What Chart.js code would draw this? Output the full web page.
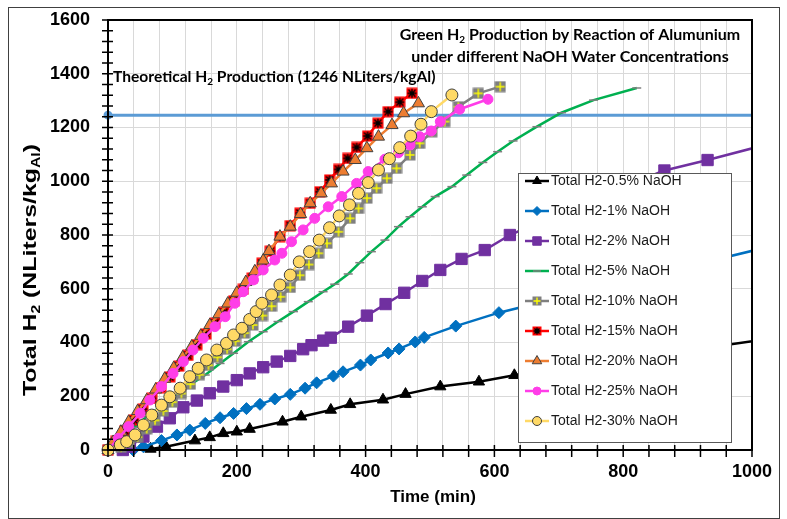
<!DOCTYPE html>
<html>
<head>
<meta charset="utf-8">
<script src="https://cdn.jsdelivr.net/npm/chart.js@4.4.0/dist/chart.umd.min.js"></script>
<style>
  html, body { margin: 0; padding: 0; background: #fff; }
</style>
</head>
<body>
<canvas id="h2Chart" width="787" height="519"></canvas>
<script>
// 시간(min) / 수소 발생량(NLiters/kgAl) - 그림에서 읽은 값
const t05 = [66, 90, 135, 158, 179, 200, 220, 271, 300, 346, 376, 427, 462, 516, 576, 631, 800, 1050];
const h05 = [4, 12, 35, 47, 62, 68, 78, 105, 124, 149, 170, 187, 208, 236, 254, 278, 336, 422];

const t1 = [39, 55, 83, 107, 127, 151, 174, 195, 215, 236, 259, 283, 306, 324, 350, 365, 392, 408, 435, 452, 477, 491, 540, 607, 800, 1050];
const h1 = [0, 12, 35, 56, 74, 99, 120, 136, 154, 170, 190, 207, 230, 250, 275, 291, 316, 335, 361, 376, 402, 419, 461, 511, 625, 770];

const t2 = [23, 34, 55, 76, 96, 117, 138, 158, 179, 200, 220, 241, 262, 283, 303, 316, 334, 346, 373, 402, 431, 460, 488, 516, 549, 585, 624, 700, 780, 864, 931, 1060];
const h2 = [0, 12, 50, 87, 118, 159, 184, 211, 236, 260, 285, 308, 329, 350, 375, 390, 407, 418, 459, 500, 543, 585, 629, 670, 711, 744, 800, 880, 960, 1040, 1079, 1160];

const t5 = [0, 20, 40, 60, 81, 104, 127, 151, 174, 195, 218, 241, 264, 288, 311, 334, 352, 373, 391, 409, 430, 451, 469, 488, 508, 534, 557, 582, 605, 629, 666, 704, 754, 821];
const h5 = [0, 38, 83, 124, 161, 198, 242, 279, 322, 360, 403, 440, 478, 515, 552, 589, 617, 655, 697, 738, 781, 831, 868, 905, 943, 980, 1023, 1070, 1110, 1150, 1203, 1255, 1302, 1347];

const t10 = [0, 20, 33, 46, 60, 73, 86, 100, 114, 128, 142, 156, 170, 185, 198, 212, 225, 240, 254, 268, 283, 298, 312, 327, 340, 358, 376, 389, 402, 417, 433, 448, 469, 484, 503, 523, 544, 575, 609];
const h10 = [0, 10, 28, 48, 78, 110, 145, 178, 210, 245, 280, 315, 345, 375, 405, 435, 465, 500, 535, 570, 605, 650, 690, 732, 769, 812, 862, 899, 937, 974, 1011, 1048, 1098, 1141, 1184, 1222, 1277, 1327, 1352];

const t15 = [0, 12, 26, 40, 54, 68, 82, 96, 110, 124, 138, 152, 166, 180, 195, 210, 224, 239, 252, 267, 283, 298, 314, 329, 344, 358, 372, 386, 403, 419, 435, 453, 472];
const h15 = [0, 32, 72, 112, 152, 192, 232, 272, 312, 352, 392, 432, 472, 512, 555, 598, 640, 695, 740, 794, 835, 881, 918, 961, 1005, 1044, 1085, 1126, 1168, 1216, 1259, 1294, 1327];

const t20 = [0, 8, 20, 32, 46, 60, 74, 88, 102, 116, 130, 144, 158, 172, 186, 200, 214, 228, 241, 250, 267, 283, 299, 314, 331, 347, 365, 384, 402, 420, 441, 459, 482];
const h20 = [0, 30, 68, 105, 145, 185, 225, 265, 305, 345, 385, 425, 465, 505, 545, 585, 625, 665, 705, 740, 794, 831, 878, 918, 955, 992, 1036, 1079, 1123, 1166, 1209, 1253, 1290];

const t25 = [0, 16, 32, 50, 65, 83, 101, 117, 132, 148, 166, 182, 197, 210, 226, 241, 259, 270, 285, 303, 321, 342, 363, 386, 404, 430, 451, 469, 484, 502, 516, 546, 590];
const h25 = [0, 43, 87, 137, 186, 236, 285, 329, 372, 416, 459, 496, 546, 589, 633, 670, 707, 732, 775, 819, 862, 905, 943, 992, 1036, 1082, 1106, 1135, 1166, 1187, 1222, 1268, 1305];

const t30 = [0, 19, 29, 42, 55, 68, 83, 96, 112, 127, 140, 153, 169, 184, 195, 208, 220, 230, 239, 254, 267, 283, 297, 313, 328, 344, 359, 375, 389, 404, 420, 437, 453, 470, 486, 502, 534];
const h30 = [0, 19, 31, 56, 93, 130, 167, 198, 230, 273, 304, 335, 372, 397, 428, 453, 486, 515, 546, 577, 614, 651, 700, 738, 781, 827, 871, 912, 955, 995, 1042, 1084, 1125, 1168, 1212, 1259, 1321];

const seriesNames = [
  "Total H2-0.5% NaOH", "Total H2-1% NaOH", "Total H2-2% NaOH",
  "Total H2-5% NaOH", "Total H2-10% NaOH", "Total H2-15% NaOH",
  "Total H2-20% NaOH", "Total H2-25% NaOH", "Total H2-30% NaOH",
];

// 이론 발생량 (1246 NLiters/kgAl)
const theoTime = [0, 1000];
const theoValue = [1246, 1246];

const xMax = 1000, yMax = 1600, minorStep = 40;

const pts = (t, v) => t.map((x, i) => ({ x: x, y: v[i] }));

// 복합 마커 (사각형 + 십자/별표)
const makeMarker = (fill, mark, star, size) => {
  const c = document.createElement("canvas");
  c.width = size; c.height = size;
  const g = c.getContext("2d");
  const m = size / 2, e = size - 1.5;
  g.fillStyle = fill;
  g.fillRect(0.5, 0.5, size - 1, size - 1);
  g.strokeStyle = mark;
  g.lineWidth = 1.4;
  g.beginPath();
  g.moveTo(m, 1.5); g.lineTo(m, e);
  g.moveTo(1.5, m); g.lineTo(e, m);
  if (star) {
    g.moveTo(2.5, 2.5); g.lineTo(size - 2.5, size - 2.5);
    g.moveTo(size - 2.5, 2.5); g.lineTo(2.5, size - 2.5);
  }
  g.stroke();
  return c;
};
const grayPlus = makeMarker("#7f7f7f", "#ffff00", false, 12);
const redStar = makeMarker("#ff0000", "#000000", true, 12);
const grayPlusSmall = makeMarker("#7f7f7f", "#ffff00", false, 10);
const redStarSmall = makeMarker("#ff0000", "#000000", true, 10);

const clipRight = { left: 12, top: 12, right: 0, bottom: 12 };

const base = (label, data, color, extra, idx) =>
  Object.assign({
    label: label,
    data: data,
    showLine: true,
    borderColor: color,
    backgroundColor: color,
    borderWidth: 2.5,
    pointBackgroundColor: color,
    pointBorderColor: color,
    pointBorderWidth: 1,
    clip: clipRight,
    order: 100 - idx,
  }, extra);

const datasets = [
  base(seriesNames[0], pts(t05, h05), "#000000", { pointStyle: "triangle", pointRadius: 6.5 }, 0),
  base(seriesNames[1], pts(t1, h1), "#0070c0", { pointStyle: "rectRot", pointRadius: 6 }, 1),
  base(seriesNames[2], pts(t2, h2), "#7030a0", { pointStyle: "rect", pointRadius: 8 }, 2),
  base(seriesNames[3], pts(t5, h5), "#00b050", { pointStyle: "line", pointRadius: 4.5, pointBorderColor: "#7f7f7f", pointBorderWidth: 1.5 }, 3),
  base(seriesNames[4], pts(t10, h10), "#7f7f7f", { pointStyle: grayPlus, pointRadius: 6 }, 4),
  base(seriesNames[5], pts(t15, h15), "#ff0000", { pointStyle: redStar, pointRadius: 6 }, 5),
  base(seriesNames[6], pts(t20, h20), "#ed7d31", { pointStyle: "triangle", pointRadius: 7, pointBorderColor: "#404040" }, 6),
  base(seriesNames[7], pts(t25, h25), "#ff3de8", { pointStyle: "circle", pointRadius: 5 }, 7),
  base(seriesNames[8], pts(t30, h30), "#ffd966", { pointStyle: "circle", pointRadius: 6, pointBackgroundColor: "#ffd966", pointBorderColor: "#404040" }, 8),
  {
    label: "Theoretical",
    data: pts(theoTime, theoValue),
    showLine: true,
    borderColor: "#5b9bd5",
    backgroundColor: "#5b9bd5",
    borderWidth: 3,
    pointRadius: [3, 0],
    clip: clipRight,
    order: 200,
  },
];

// 범례용 작은 마커
const legendStyle = [
  { s: "triangle", r: 5 }, { s: "rectRot", r: 4.5 }, { s: "rect", r: 6 },
  { s: "line", r: 4 }, { s: grayPlusSmall, r: 5 }, { s: redStarSmall, r: 5 },
  { s: "triangle", r: 5.5 }, { s: "circle", r: 4 }, { s: "circle", r: 4.5 },
];

// 아래첨자 포함 텍스트 (stretch: 글자 방향으로 늘릴 목표 길이)
const richText = (ctx, parts, x, y, size, weight, family, align, stretch) => {
  const fontOf = (sub) => `${weight} ${sub ? Math.round(size * 0.65) : size}px ${family}`;
  let w = 0;
  parts.forEach((p) => { ctx.font = fontOf(p[1]); w += ctx.measureText(p[0]).width; });
  const sx = stretch ? stretch / w : 1;
  ctx.save();
  ctx.translate(x, y);
  ctx.scale(sx, 1);
  let cx = align === "center" ? -w / 2 : 0;
  ctx.textAlign = "left";
  ctx.textBaseline = "middle";
  parts.forEach((p) => {
    ctx.font = fontOf(p[1]);
    ctx.fillText(p[0], cx, p[1] ? size * 0.3 : 0);
    cx += ctx.measureText(p[0]).width;
  });
  ctx.restore();
};

const decor = {
  id: "decor",
  afterDraw(chart) {
    const ctx = chart.ctx;
    const a = chart.chartArea;
    const xs = chart.scales.x, ys = chart.scales.y;
    ctx.save();

    // 그래프 영역 테두리
    ctx.strokeStyle = "#000";
    ctx.lineWidth = 2;
    ctx.strokeRect(a.left, a.top, a.right - a.left, a.bottom - a.top);

    // 보조 눈금
    ctx.lineWidth = 1.5;
    ctx.beginPath();
    for (let v = 0; v <= yMax; v += minorStep) {
      const y = ys.getPixelForValue(v);
      ctx.moveTo(a.left - 6, y); ctx.lineTo(a.left + 5, y);
    }
    for (let t = 0; t <= xMax; t += minorStep) {
      const x = xs.getPixelForValue(t);
      ctx.moveTo(x, a.bottom - 5); ctx.lineTo(x, a.bottom + 7);
    }
    ctx.stroke();

    // 제목
    ctx.fillStyle = "#000";
    const cal = "Lato, 'Open Sans', sans-serif";
    richText(ctx, [["Green H", 0], ["2", 1], [" Production by Reaction of Alumunium", 0]], 570, 35, 16, "bold", cal, "center");
    richText(ctx, [["under different NaOH Water Concentrations", 0]], 570, 57, 16, "bold", cal, "center");
    richText(ctx, [["Theoretical H", 0], ["2", 1], [" Production (1246 NLiters/kgAl)", 0]], 113, 77, 15.6, "bold", cal, "left");

    // 축 제목
    const ar = "'Liberation Sans', Arial, sans-serif";
    richText(ctx, [["Time (min)", 0]], 433, 497, 17, "bold", ar, "center");
    ctx.save();
    ctx.translate(31, 270);
    ctx.rotate(-Math.PI / 2);
    richText(ctx, [["Total H", 0], ["2", 1], [" (NLiters/kg", 0], ["Al", 1], [")", 0]], 0, 0, 19, "bold", ar, "center", 252);
    ctx.restore();

    // 범례
    const lx = 518.5, ly = 173.5, lw = 213, lh = 269;
    ctx.fillStyle = "#fff";
    ctx.fillRect(lx, ly, lw, lh);
    ctx.strokeStyle = "#595959";
    ctx.lineWidth = 1;
    ctx.strokeRect(lx, ly, lw, lh);
    chart.data.datasets.slice(0, 9).forEach((ds, i) => {
      const y = 181 + i * 30;
      ctx.strokeStyle = ds.borderColor;
      ctx.lineWidth = 2.5;
      ctx.beginPath();
      ctx.moveTo(525, y); ctx.lineTo(549, y);
      ctx.stroke();
      ctx.fillStyle = ds.pointBackgroundColor;
      ctx.strokeStyle = ds.pointBorderColor;
      ctx.lineWidth = ds.pointBorderWidth;
      Chart.helpers.drawPoint(ctx, {
        pointStyle: legendStyle[i].s,
        radius: legendStyle[i].r,
        borderWidth: ds.pointBorderWidth,
        rotation: 0,
      }, 537, y);
      ctx.fillStyle = "#1a1a1a";
      ctx.font = "14px 'Liberation Sans', Arial, sans-serif";
      ctx.textAlign = "left";
      ctx.textBaseline = "middle";
      ctx.fillText(ds.label, 551, y);
    });

    // 바깥 테두리
    ctx.strokeStyle = "#404040";
    ctx.lineWidth = 1;
    ctx.strokeRect(8.5, 7.5, 771, 511);
    ctx.restore();
  },
};

const ctx = document.getElementById("h2Chart").getContext("2d");
new Chart(ctx, {
  type: "scatter",
  data: { datasets: datasets },
  plugins: [decor],
  options: {
    responsive: false,
    animation: false,
    events: [],
    layout: { padding: { top: 20, right: 35, left: 0, bottom: 0 } },
    plugins: { legend: { display: false }, tooltip: { enabled: false } },
    scales: {
      x: {
        type: "linear",
        min: 0,
        max: xMax,
        afterFit: (s) => { s.height = 69; s.paddingLeft = 0; s.paddingRight = 0; },
        ticks: {
          stepSize: minorStep,
          autoSkip: false,
          maxRotation: 0,
          padding: 11,
          color: "#000",
          font: { family: "'Liberation Sans', Arial, sans-serif", size: 18, weight: "bold" },
          callback: (v) => (v % 200 === 0 ? String(v) : ""),
        },
        grid: { color: "#d9d9d9", drawTicks: false },
        border: { color: "#000", width: 2 },
      },
      y: {
        min: 0,
        max: yMax,
        afterFit: (s) => { s.width = 108; s.paddingTop = 0; s.paddingBottom = 0; },
        ticks: {
          stepSize: 200,
          padding: 18,
          color: "#000",
          font: { family: "'Liberation Sans', Arial, sans-serif", size: 18, weight: "bold" },
          callback: (v) => String(v),
        },
        grid: { color: "#d9d9d9", drawTicks: false },
        border: { color: "#000", width: 2 },
      },
    },
  },
});
</script>
</body>
</html>
